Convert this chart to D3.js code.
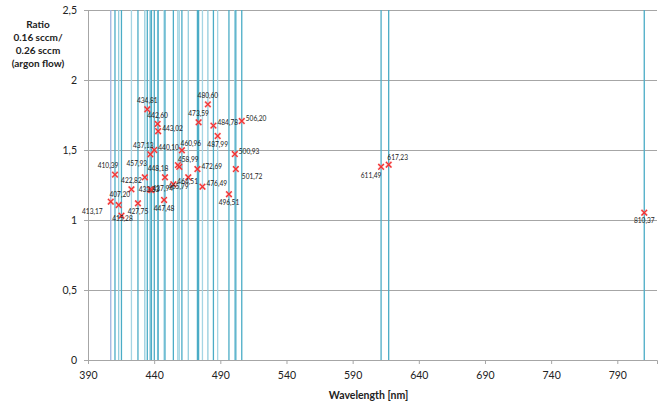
<!DOCTYPE html>
<html><head><meta charset="utf-8">
<script src="https://cdn.jsdelivr.net/npm/d3@7"></script>
<style>body{margin:0;background:#fff;} svg{display:block;font-family:Lato,"Liberation Sans",sans-serif;}</style>
</head><body><div id="chart"></div>
<script>
const wavelengths = [407.20,410.39,413.17,415.28,422.82,427.75,432.93,434.81,437.13,436.9,437.94,440.10,442.60,443.02,447.48,448.18,454.51,457.93,458.99,460.96,465.79,472.69,473.59,476.49,480.60,484.78,487.99,496.51,500.93,501.72,506.20,611.49,617.23,810.37];
const ratios =      [1.131,1.324,1.107,1.031,1.219,1.119,1.305,1.791,1.469,1.218,1.214,1.500,1.686,1.634,1.143,1.305,1.255,1.392,1.380,1.498,1.305,1.364,1.698,1.238,1.826,1.674,1.600,1.184,1.471,1.364,1.707,1.380,1.395,1.052];
const pointLabels = ["407,20","410,39","413,17","415,28","422,82","427,75","457,93","434,81","437,13","433,33","437,94","440,10","442,60","443,02","447,48","448,18","464,51","","458,99","460,96","465,79","472,69","473,59","476,49","480,60","484,78","487,99","496,51","500,93","501,72","506,20","611,49","617,23","810,37"];
const labelPlacement = ["ar","al","l2","b2","a","b","al2","a","al","c","r0","r","a","r","b","al","r","","ar","ar","bl","r","a","r","a","r","b","b","r","br","r","bl","ar","b"];
const lineColors = ["#9fb3df","#4bacc6","#93cddd","#4bacc6","#a5d5e4","#4bacc6","#93cddd","#4bacc6","#4bacc6","#a5d5e4","#4bacc6","#4bacc6","#93cddd","#4bacc6","#a5d5e4","#4bacc6","#4bacc6","#93cddd","#a5d5e4","#4bacc6","#93cddd","#4bacc6","#4bacc6","#a5d5e4","#93cddd","#4bacc6","#a5d5e4","#4bacc6","#93cddd","#4bacc6","#4bacc6","#4bacc6","#4bacc6","#4bacc6"];
const xTicks = [390,440,490,540,590,640,690,740,790];
const yTicks = [0,0.5,1,1.5,2,2.5];
const xTitle = "Wavelength [nm]";
const yTitleLines = ["Ratio","0.16 sccm/","0.26 sccm","(argon flow)"];

const W=663,H=406;
const m={left:88,right:6,top:10,bottom:46};
const svg=d3.select("#chart").append("svg").attr("width",W).attr("height",H);
const x=d3.scaleLinear().domain([390,820]).range([m.left,W-m.right]);
const y=d3.scaleLinear().domain([0,2.5]).range([H-m.bottom,m.top]);
const fmt=d=>String(d).replace(".",",");

svg.append("g").selectAll("line").data(yTicks.filter(d=>d>0)).join("line")
  .attr("x1",x(390)).attr("x2",x(820)).attr("y1",d=>y(d)).attr("y2",d=>y(d))
  .attr("stroke","#a6a6a6").attr("stroke-width",1).attr("shape-rendering","crispEdges");

svg.append("g").selectAll("line").data(wavelengths).join("line")
  .attr("x1",d=>x(d)).attr("x2",d=>x(d)).attr("y1",y(0)).attr("y2",y(2.5))
  .attr("stroke",(d,i)=>lineColors[i]).attr("stroke-width",1.3);

const yAxis=svg.append("g").attr("transform",`translate(${m.left},0)`)
  .call(d3.axisLeft(y).tickValues(yTicks).tickFormat(fmt).tickSize(4).tickPadding(7));
const xAxis=svg.append("g").attr("transform",`translate(0,${y(0)})`)
  .call(d3.axisBottom(x).tickValues(xTicks).tickSize(4).tickPadding(8));
[yAxis,xAxis].forEach(g=>{
  g.select(".domain").attr("stroke","#a6a6a6");
  g.selectAll(".tick line").attr("stroke","#a6a6a6");
  g.selectAll("text").attr("font-size",10.5).attr("fill","#222").attr("font-family","Lato, sans-serif");
});

const mk=svg.append("g");
wavelengths.forEach((w,i)=>{
  const cx=x(w), cy=y(ratios[i]), s=2.8;
  const d=`M${cx-s},${cy-s}L${cx+s},${cy+s}M${cx-s},${cy+s}L${cx+s},${cy-s}`;
  mk.append("path").attr("d",d).attr("stroke","#ff8080").attr("stroke-width",2.4).attr("opacity",0.5);
  mk.append("path").attr("d",d).attr("stroke","#f03030").attr("stroke-width",1.2);
});

const place={a:[0,-8,"middle"],b:[0,9,"middle"],l:[-12,0,"end"],r:[4,-2,"start"],
  al:[-7,-8,"middle"],ar:[9,-6,"middle"],bl:[-10,10,"middle"],br:[6,8,"start"],
  l2:[-16,7,"end"],b2:[1,4,"middle"],al2:[-8,-13,"middle"],c:[-1,1,"middle"],r0:[1,-1,"start"]};
const lg=svg.append("g");
wavelengths.forEach((w,i)=>{
  if(!pointLabels[i]) return;
  const p=place[labelPlacement[i]];
  lg.append("text").attr("x",x(w)+p[0]).attr("y",y(ratios[i])+p[1])
    .attr("text-anchor",p[2]).attr("dominant-baseline","middle")
    .attr("font-size",6.6).attr("fill","#222").text(pointLabels[i]);
});

svg.append("text").attr("x",(m.left+W-m.right)/2-4).attr("y",399).attr("text-anchor","middle")
  .attr("font-size",10.5).attr("font-weight","bold").attr("fill","#222").text(xTitle);
svg.append("g").selectAll("text").data(yTitleLines).join("text")
  .attr("x",38).attr("y",(d,i)=>28+i*13).attr("text-anchor","middle")
  .attr("font-size",10).attr("font-weight","bold").attr("fill","#222").text(d=>d);
</script></body></html>
